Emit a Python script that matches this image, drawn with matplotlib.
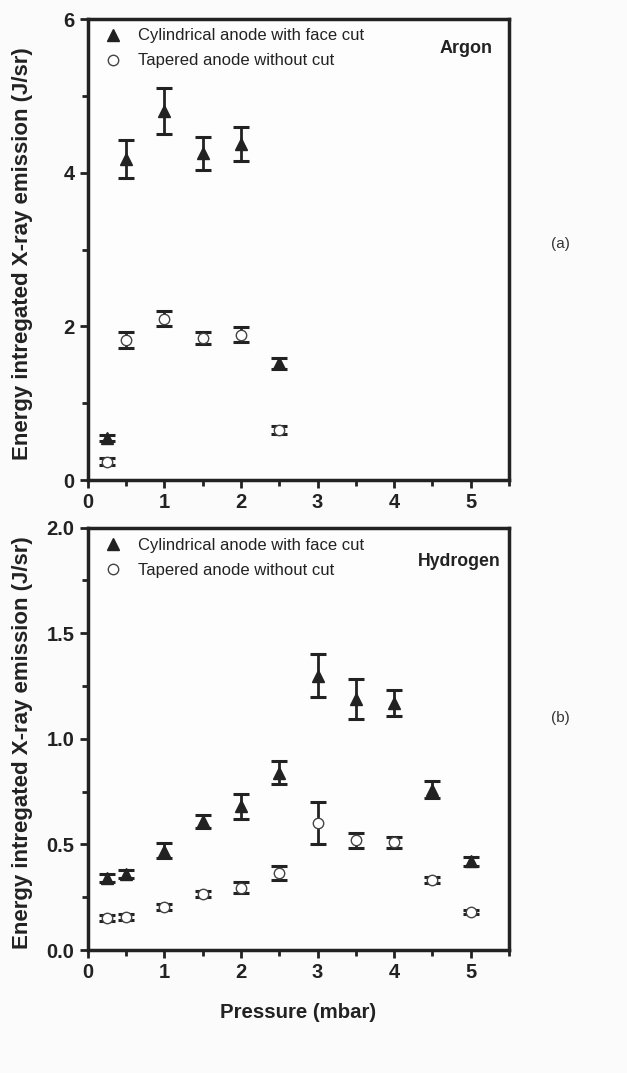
import numpy as np
import matplotlib.pyplot as plt
from matplotlib.ticker import MultipleLocator

# Argon
ar_p_cyl = [0.25, 0.5, 1.0, 1.5, 2.0, 2.5]
ar_cyl = [0.55, 4.18, 4.80, 4.25, 4.37, 1.52]
ar_cyl_err = [0.04, 0.25, 0.30, 0.21, 0.22, 0.07]
ar_p_tap = [0.25, 0.5, 1.0, 1.5, 2.0, 2.5]
ar_tap = [0.24, 1.82, 2.10, 1.85, 1.89, 0.65]
ar_tap_err = [0.04, 0.10, 0.10, 0.08, 0.10, 0.05]

# Hydrogen
h_p = [0.25, 0.5, 1.0, 1.5, 2.0, 2.5, 3.0, 3.5, 4.0, 4.5, 5.0]
h_cyl = [0.34, 0.36, 0.47, 0.61, 0.68, 0.84, 1.30, 1.19, 1.17, 0.76, 0.42]
h_cyl_err = [0.02, 0.02, 0.035, 0.03, 0.06, 0.055, 0.10, 0.095, 0.06, 0.04, 0.02]
h_tap = [0.15, 0.155, 0.205, 0.265, 0.295, 0.365, 0.60, 0.52, 0.51, 0.33, 0.18]
h_tap_err = [0.015, 0.015, 0.015, 0.015, 0.025, 0.035, 0.10, 0.035, 0.025, 0.015, 0.01]

lab_cyl = 'Cylindrical anode with face cut'
lab_tap = 'Tapered anode without cut'
ink = '#222222'

plt.rcParams['font.family'] = ['Liberation Sans', 'DejaVu Sans']

fig = plt.figure(figsize=(6.27, 10.73), dpi=100, facecolor='#fbfbfb')
W, H = 627, 1073
ax1 = fig.add_axes([87.7 / W, 1 - 480 / H, (509 - 87.7) / W, (480 - 19) / H])
ax2 = fig.add_axes([87.7 / W, 1 - 950 / H, (509 - 87.7) / W, (950 - 527.7) / H])


def draw(ax, px, yc, ec, pt, yt, et):
    ax.set_facecolor('#fdfdfd')
    ax.errorbar(px, yc, yerr=ec, fmt='none', ecolor=ink, capsize=6,
                elinewidth=2, capthick=2.2)
    ax.plot(px, yc, '^', color=ink, ms=9, label=lab_cyl)
    ax.errorbar(pt, yt, yerr=et, fmt='none', ecolor=ink, capsize=6,
                elinewidth=2, capthick=2.2)
    ax.plot(pt, yt, 'o', mfc='white', mec='#444444', ms=7.5, mew=1,
            label=lab_tap)
    ax.set_xlim(0, 5.5)
    ax.xaxis.set_major_locator(MultipleLocator(1))
    ax.xaxis.set_minor_locator(MultipleLocator(0.5))
    for s in ax.spines.values():
        s.set_linewidth(2.5)
        s.set_color(ink)
    ax.tick_params(which='major', length=6, width=2, colors=ink,
                   labelsize=14.5)
    ax.tick_params(which='minor', length=4, width=2, colors=ink)
    ax.set_ylabel('Energy intregated X-ray emission (J/sr)', fontsize=16,
                  fontweight='bold', color=ink)
    ax.yaxis.set_label_coords(-0.13, 0.49)
    leg = ax.legend(loc='upper left', frameon=False, fontsize=12,
                    handletextpad=0.5, labelspacing=0.6,
                    bbox_to_anchor=(-0.015, 1.012))
    for t in leg.get_texts():
        t.set_color(ink)


draw(ax1, ar_p_cyl, ar_cyl, ar_cyl_err, ar_p_tap, ar_tap, ar_tap_err)
ax1.set_ylim(0, 6)
ax1.yaxis.set_major_locator(MultipleLocator(2))
ax1.yaxis.set_minor_locator(MultipleLocator(1))
ax1.text(0.96, 0.935, 'Argon', transform=ax1.transAxes, ha='right', va='center',
         fontsize=13, fontweight='bold', color=ink)
for t in ax1.get_xticklabels() + ax1.get_yticklabels():
    t.set_fontweight('bold')

draw(ax2, h_p, h_cyl, h_cyl_err, h_p, h_tap, h_tap_err)
ax2.set_ylim(0, 2.0)
ax2.yaxis.set_major_locator(MultipleLocator(0.5))
ax2.yaxis.set_minor_locator(MultipleLocator(0.25))
ax2.yaxis.set_major_formatter(plt.FormatStrFormatter('%.1f'))
ax2.text(0.98, 0.92, 'Hydrogen', transform=ax2.transAxes, ha='right', va='center',
         fontsize=12.7, fontweight='bold', color=ink)
ax2.set_xlabel('Pressure (mbar)', fontsize=14.7, fontweight='bold', color=ink,
               labelpad=15)
for t in ax2.get_xticklabels() + ax2.get_yticklabels():
    t.set_fontweight('bold')

fig.text(560 / W, 1 - 244 / H, '(a)', ha='center', va='center', fontsize=11, color='#333333')
fig.text(560 / W, 1 - 718 / H, '(b)', ha='center', va='center', fontsize=11, color='#333333')

fig.savefig('out.png', dpi=100, facecolor=fig.get_facecolor())
